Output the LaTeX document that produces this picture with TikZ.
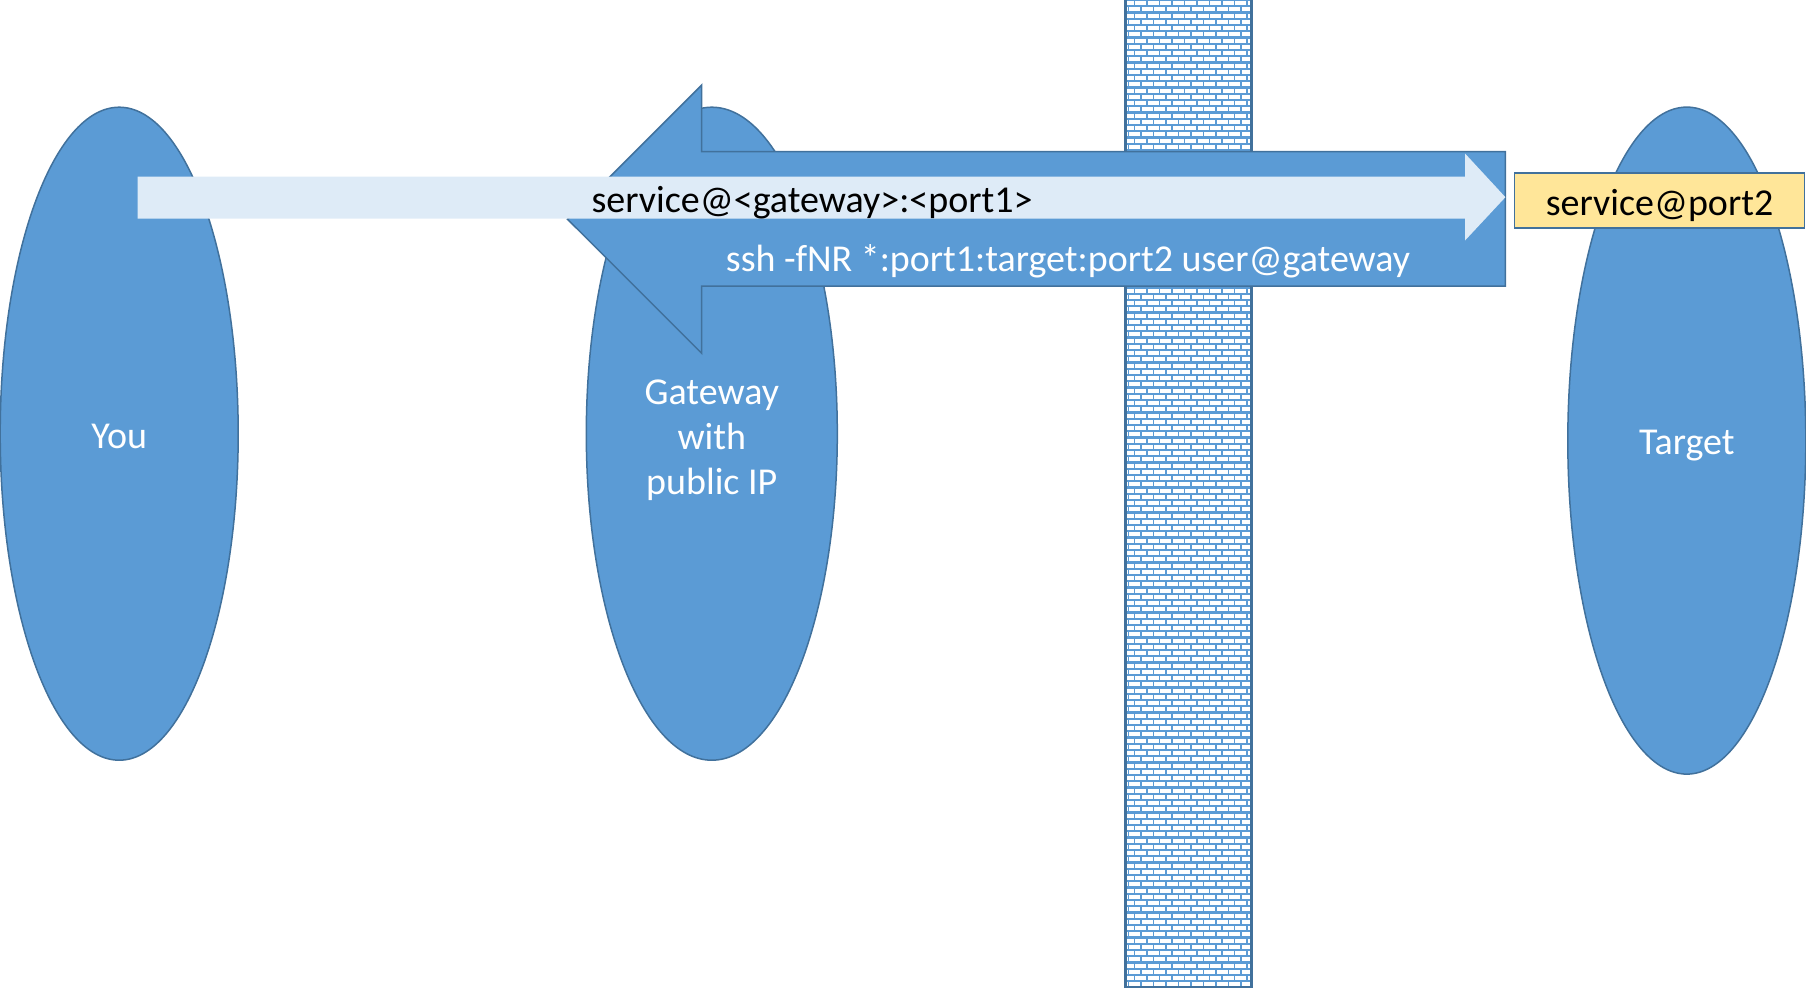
\documentclass[tikz,border=0pt]{standalone}
\usepackage{fontspec}
\setmainfont{Carlito}
\usetikzlibrary{shapes.geometric}
\definecolor{blueA}{HTML}{5B9BD5}
\definecolor{blueB}{HTML}{41719C}
\definecolor{lightA}{HTML}{DEEBF7}
\definecolor{yelA}{HTML}{FFE699}
\tikzset{
  blob/.style={ellipse, fill=blueA, draw=blueB, line width=1.5pt, inner sep=0pt, text=white, font=\fontsize{38}{45}\selectfont, align=center},
  lbl/.style={inner sep=0pt, font=\fontsize{38}{45}\selectfont},
  bigarrow/.style={fill=blueA, draw=blueB, line width=1.5pt, line join=miter},
  lightarrow/.style={fill=lightA},
  mortarh/.style={draw=blueA, line width=2.2pt},
  mortarv/.style={draw=blueA, line width=1.5pt},
  wallborder/.style={draw=blueB, line width=2.5pt},
  tagbox/.style={fill=yelA, draw=blueB, line width=1.5pt, minimum width=290pt, minimum height=55pt, inner sep=0pt}
}
\begin{document}
\begin{tikzpicture}[x=1pt,y=-1pt]
\useasboundingbox (0,0) rectangle (1806,988);
% wall
\fill[white] (1125.5,-2) rectangle (1251.5,987);
\begin{scope}
\clip (1125.5,-2) rectangle (1251.5,987);
\foreach \i in {0,...,158} {
  \pgfmathsetmacro{\yy}{\i*6.25}
  \pgfmathsetmacro{\yn}{\yy+6.25}
  \pgfmathsetmacro{\off}{mod(\i,2)*6.25}
  \draw[mortarh] (1120,\yy) -- (1260,\yy);
  \foreach \k in {0,...,10} {
    \pgfmathsetmacro{\xx}{1122+\off+\k*12.5}
    \draw[mortarv] (\xx,\yy) -- (\xx,\yn);
  }
}
\end{scope}
\draw[wallborder] (1125.5,-2) rectangle (1251.5,987);
% ellipses
\node[blob, minimum width=238pt, minimum height=653pt] (you) at (119.2,433.7) {};
\node[blob, minimum width=251pt, minimum height=653pt] (gw) at (711.8,433.7) {};
\node[blob, minimum width=238pt, minimum height=667pt] (tgt) at (1686.8,440.6) {};
\node[lbl, text=white] (youtxt) at (119.2,436) {You};
\node[lbl, text=white, align=center] (gwtxt) at (711.8,440) {Gateway\\with\\public IP};
\node[lbl, text=white] (tgttxt) at (1686.8,446) {Target};
% big reverse-tunnel arrow
\draw[bigarrow] (567.5,219.2) -- (701.7,85) -- (701.7,151.7) -- (1505.4,151.7) -- (1505.4,286) -- (701.7,286) -- (701.7,353.3) -- cycle;
% light service arrow
\fill[lightarrow] (137.7,176.7) -- (1465,176.7) -- (1465,153.5) -- (1505.4,197.2) -- (1465,240.5) -- (1465,218.7) -- (137.7,218.7) -- cycle;
% labels
\node[lbl, text=black] (svc) at (812,202.5) {service@<gateway>:<port1>};
\node[lbl, text=white] (ssh) at (1068,261) {ssh -fNR *:port1:target:port2 user@gateway};
\node[tagbox] (port2) at (1659.5,200.5) {};
\node[lbl, text=black] (port2txt) at (1659.5,205) {service@port2};
\end{tikzpicture}
\end{document}
